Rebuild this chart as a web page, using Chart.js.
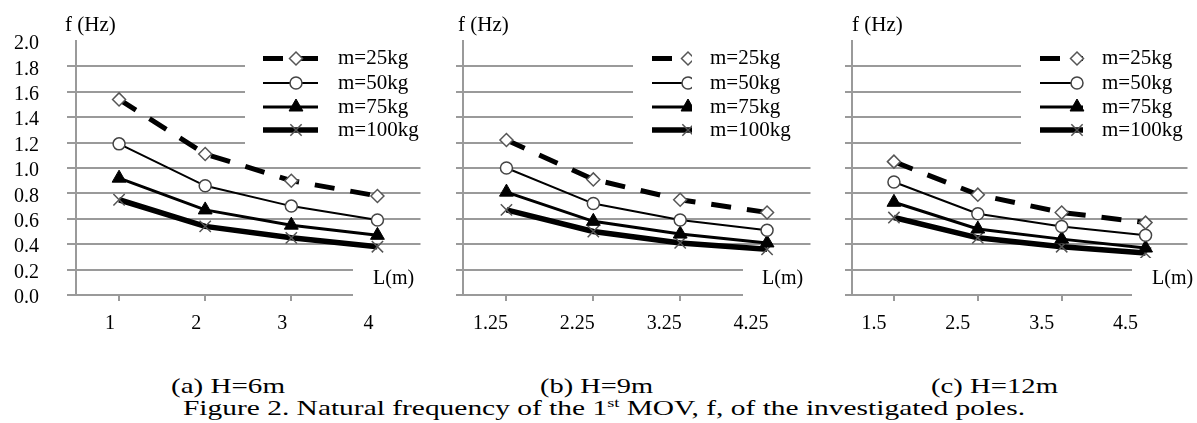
<!DOCTYPE html>
<html><head><meta charset="utf-8">
<script src="https://cdn.jsdelivr.net/npm/chart.js@4/dist/chart.umd.min.js"></script>
<style>
html,body{margin:0;padding:0;background:#fff;width:1197px;height:423px;overflow:hidden;position:relative;font-family:"Liberation Serif",serif;}
canvas{position:absolute;top:0;}
.cap{position:absolute;white-space:nowrap;line-height:20px;transform-origin:0 0;color:#000;}
.cap .sup{font-size:13px;position:relative;top:-8px;}
</style></head><body>
<canvas id="c1" width="430" height="340" style="left:0px"></canvas>
<canvas id="c2" width="390" height="340" style="left:430px"></canvas>
<canvas id="c3" width="377" height="340" style="left:820px"></canvas>
<script>
// ---- data ----
const lengthsA = ['1', '2', '3', '4'];
const lengthsB = ['1.25', '2.25', '3.25', '4.25'];
const lengthsC = ['1.5', '2.5', '3.5', '4.5'];
const seriesNames = ['m=25kg', 'm=50kg', 'm=75kg', 'm=100kg'];
const yTickValues = [0, 0.2, 0.4, 0.6, 0.8, 1.0, 1.2, 1.4, 1.6, 1.8, 2.0];

const fA_25  = [1.54, 1.11, 0.90, 0.78];
const fA_50  = [1.19, 0.86, 0.70, 0.59];
const fA_75  = [0.92, 0.67, 0.55, 0.47];
const fA_100 = [0.75, 0.54, 0.45, 0.38];

const fB_25  = [1.22, 0.91, 0.75, 0.65];
const fB_50  = [1.00, 0.72, 0.59, 0.51];
const fB_75  = [0.81, 0.58, 0.48, 0.41];
const fB_100 = [0.67, 0.50, 0.41, 0.36];

const fC_25  = [1.05, 0.79, 0.65, 0.57];
const fC_50  = [0.89, 0.64, 0.54, 0.47];
const fC_75  = [0.73, 0.52, 0.44, 0.37];
const fC_100 = [0.61, 0.45, 0.38, 0.33];

const yAxisTitle = 'f (Hz)';
const xAxisTitle = 'L(m)';

// ---- styles ----
const SERIF = '"Liberation Serif", "Times New Roman", serif';
Chart.defaults.font.family = SERIF;
Chart.defaults.color = '#000';
const GRID = '#9a9a9a';
const seriesStyles = [
  {borderColor:'#000', borderWidth:5, borderDash:[20,16], pointStyle:'rectRot', pointRadius:6.5, pointBackgroundColor:'#fff', pointBorderColor:'#555', pointBorderWidth:1.5},
  {borderColor:'#000', borderWidth:2, pointStyle:'circle', pointRadius:6, pointBackgroundColor:'#fff', pointBorderColor:'#444', pointBorderWidth:1.5},
  {borderColor:'#000', borderWidth:3, pointStyle:'triangle', pointRadius:8, pointBackgroundColor:'#000', pointBorderColor:'#000', pointBorderWidth:1},
  {borderColor:'#000', borderWidth:5.5, pointStyle:'crossRot', pointRadius:8, pointBackgroundColor:'rgba(0,0,0,0)', pointBorderColor:'#555', pointBorderWidth:1.5}
];

const overlayPlugin = {
  id: 'overlay',
  afterDatasetsDraw(chart, args, o) {
    const ctx = chart.ctx;
    ctx.save();
    ctx.fillStyle = '#fff';
    ctx.fillRect(o.boxX, 0, chart.width - o.boxX, o.boxBottom);
    ctx.fillRect(o.lBoxX, o.lBoxTop, chart.width - o.lBoxX, o.lBoxBottom - o.lBoxTop);
    // legend samples
    ctx.save();
    ctx.beginPath(); ctx.rect(0, 0, o.clipX, chart.height); ctx.clip();
    chart.data.datasets.forEach((ds, i) => {
      const y = o.rows[i];
      ctx.save();
      ctx.strokeStyle = ds.borderColor; ctx.lineWidth = ds.borderWidth;
      ctx.setLineDash(ds.borderDash || []); ctx.lineCap = 'butt';
      ctx.beginPath(); ctx.moveTo(o.lineX0, y); ctx.lineTo(o.lineX1, y); ctx.stroke();
      ctx.setLineDash([]);
      ctx.fillStyle = ds.pointBackgroundColor; ctx.strokeStyle = ds.pointBorderColor; ctx.lineWidth = ds.pointBorderWidth;
      Chart.helpers.drawPoint(ctx, {pointStyle: ds.pointStyle, radius: ds.pointRadius, rotation: 0, borderWidth: ds.pointBorderWidth}, o.markerX, y);
      ctx.restore();
    });
    ctx.restore();
    ctx.fillStyle = '#000';
    ctx.textBaseline = 'middle'; ctx.textAlign = 'left';
    ctx.font = '21px ' + SERIF;
    chart.data.datasets.forEach((ds, i) => ctx.fillText(ds.label, o.textX, o.rows[i]));
    ctx.fillText(yAxisTitle, o.fX, 25);
    ctx.font = '20px ' + SERIF;
    ctx.fillText(xAxisTitle, o.lTextX, 279);
    ctx.restore();
  }
};

function makeChart(id, labels, series, cfg) {
  const datasets = series.map((d, i) => Object.assign({label: seriesNames[i], data: d, tension: 0, fill: false}, seriesStyles[i]));
  return new Chart(document.getElementById(id), {
    type: 'line',
    data: {labels, datasets},
    plugins: [overlayPlugin],
    options: {
      responsive: false, animation: false, events: [], devicePixelRatio: 1,
      layout: {padding: {top: 41, right: cfg.padRight, bottom: 0, left: 0}},
      plugins: {legend: {display: false}, tooltip: {enabled: false}, overlay: cfg.overlay},
      scales: {
        x: {
          type: 'category', offset: true,
          grid: {drawOnChartArea: false, drawTicks: true, tickLength: 6, color: GRID, lineWidth: 2},
          border: {display: true, color: GRID, width: 2},
          ticks: {font: {size: 20}, padding: 11, labelOffset: cfg.labelOffset, maxRotation: 0, autoSkip: false},
          afterFit: s => { s.height = 45; }
        },
        y: {
          min: 0, max: 2.0,
          afterBuildTicks: s => { s.ticks = yTickValues.map(v => ({value: v})); },
          grid: {color: c => (c.tick && Math.abs(c.tick.value - 2) < 1e-6) ? 'rgba(0,0,0,0)' : GRID, lineWidth: 2, tickLength: cfg.yTick, drawTicks: true},
          border: {display: true, color: GRID, width: 2},
          ticks: {display: cfg.showY, autoSkip: false, font: {size: 20}, padding: 28, labelOffset: 3, callback: v => Number(v).toFixed(1)},
          afterFit: s => { s.width = cfg.yWidth; }
        }
      }
    }
  });
}

makeChart('c1', lengthsA, [fA_25, fA_50, fA_75, fA_100], {
  padRight: 7, yWidth: 76, yTick: 9, showY: true, labelOffset: -9,
  overlay: {boxX: 245, boxBottom: 150, lBoxX: 353, lBoxTop: 258, lBoxBottom: 305, lTextX: 373,
            lineX0: 263, lineX1: 318, markerX: 296, clipX: 9999, textX: 338, rows: [58.5, 83, 107, 130], fX: 65}
});
makeChart('c2', lengthsB, [fB_25, fB_50, fB_75, fB_100], {
  padRight: 9, yWidth: 33, yTick: 7, showY: false, labelOffset: -16,
  overlay: {boxX: 203, boxBottom: 150, lBoxX: 313, lBoxTop: 258, lBoxBottom: 305, lTextX: 332,
            lineX0: 222, lineX1: 262, markerX: 258, clipX: 262, textX: 280, rows: [58.5, 83, 107, 130], fX: 28}
});
makeChart('c3', lengthsC, [fC_25, fC_50, fC_75, fC_100], {
  padRight: 0, yWidth: 32, yTick: 7, showY: false, labelOffset: -20,
  overlay: {boxX: 201, boxBottom: 150, lBoxX: 312, lBoxTop: 258, lBoxBottom: 305, lTextX: 332,
            lineX0: 220, lineX1: 263, markerX: 257, clipX: 9999, textX: 282, rows: [58.5, 83, 107, 130], fX: 32}
});

// ---- captions ----
const captions = [
  {html: '(a) H=6m', left: 171, top: 376, w: 114, size: 22},
  {html: '(b) H=9m', left: 540, top: 376, w: 113, size: 22},
  {html: '(c) H=12m', left: 931, top: 376, w: 127, size: 22},
  {html: 'Figure 2. Natural frequency of the 1<span class="sup">st</span> MOV, f, of the investigated poles.', left: 183, top: 398, w: 842, size: 21}
];
captions.forEach(c => {
  const d = document.createElement('div');
  d.className = 'cap';
  d.innerHTML = c.html;
  d.style.fontSize = c.size + 'px';
  d.style.left = c.left + 'px';
  d.style.top = c.top + 'px';
  document.body.appendChild(d);
  const nat = d.getBoundingClientRect().width;
  d.style.transform = 'scaleX(' + (c.w / nat) + ')';
});
</script>
</body></html>
